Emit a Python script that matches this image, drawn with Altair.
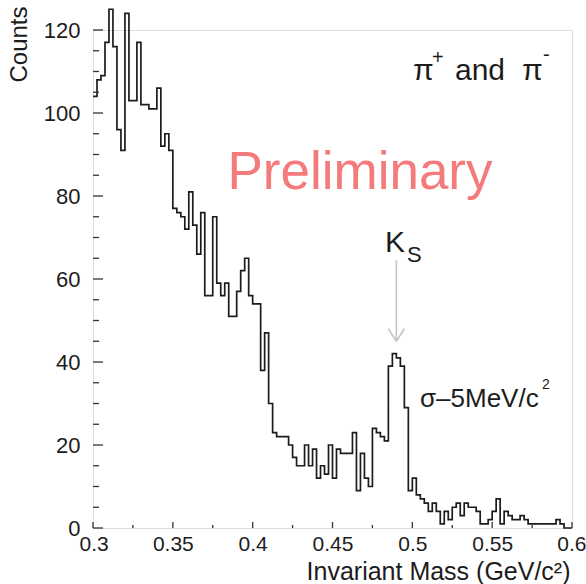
import altair as alt
import pandas as pd

# pi+ pi- invariant mass histogram: 2.5 MeV/c^2 bins from 0.30 to 0.60 GeV/c^2
BIN_WIDTH = 0.0025
counts = [
    104, 108, 109, 117, 125, 116, 96, 91, 124, 103,
    103, 117, 102, 102, 101, 101, 106, 92, 95, 91,
    77, 76, 75, 72, 81, 73, 66, 76, 56, 56,
    75, 59, 56, 59, 51, 51, 57, 62, 65, 56,
    54, 54, 38, 47, 30, 23, 22, 22, 22, 20,
    17, 15, 15, 20, 15, 19, 12, 15, 13, 20,
    12, 19, 18, 18, 18, 23, 9, 18, 12, 10,
    24, 23, 22, 21, 39, 42, 41, 39, 29, 9,
    12, 8, 7, 6, 4, 6, 4, 1, 4, 2,
    5, 6, 3, 6, 5, 5, 4, 1, 1, 2,
    4, 7, 1, 4, 3, 2, 2, 3, 2, 1,
    1, 1, 1, 1, 1, 1, 2, 1, 0, 0,
]

x_tick_values = [0.3, 0.35, 0.4, 0.45, 0.5, 0.55, 0.6]
x_minor_ticks = [0.325, 0.375, 0.425, 0.475, 0.525, 0.575]
y_tick_values = [0, 20, 40, 60, 80, 100, 120]
y_minor_ticks = [5, 10, 15, 25, 30, 35, 45, 50, 55, 65, 70, 75,
                 85, 90, 95, 105, 110, 115]

# K_S arrow (data coordinates): shaft and the two strokes of the head
ks_mass = 0.49
arrow_x = [ks_mass, ks_mass - 0.005, ks_mass + 0.005]
arrow_y = [64.5, 48.0, 48.0]
arrow_x2 = [ks_mass, ks_mass, ks_mass]
arrow_y2 = [45.0, 45.0, 45.0]

W, H = 479, 498
FONT = "Liberation Sans"
INK = "#1c1c1c"

edges = [round(0.3 + BIN_WIDTH * i, 4) for i in range(len(counts))]
hist_df = pd.DataFrame({"mass": edges + [0.6], "n": counts + [counts[-1]]})

x_scale = alt.Scale(domain=[0.3, 0.6], nice=False, zero=False)
y_scale = alt.Scale(domain=[0, 120], nice=False, zero=True)

# one axis definition shared by every layer so the merged axes agree
x_axis = alt.Axis(
    values=x_tick_values, format="~g", ticks=False, domain=False,
    grid=False, labelFontSize=21, labelPadding=5, labelColor=INK,
    labelFlush=True, labelFlushOffset=14, labelOverlap=False,
    labelFont=FONT,
    title="Invariant Mass (GeV/c²)", titleFontSize=25,
    titleFontWeight="normal", titleFont=FONT, titleColor=INK,
    titleX=477, titleY=51, titleAlign="right",
    titleBaseline="alphabetic",
)
y_axis = alt.Axis(
    values=y_tick_values, ticks=False, domain=False, grid=False,
    labelFontSize=22, labelPadding=13, labelColor=INK,
    labelOverlap=False, labelFont=FONT,
    title="Counts", titleFontSize=24, titleFontWeight="normal",
    titleFont=FONT, titleColor=INK, titleAngle=270,
    titleX=-67, titleY=-24, titleAlign="right",
    titleBaseline="alphabetic",
)

hist = alt.Chart(hist_df).mark_line(
    interpolate="step-after", color=INK, strokeWidth=1.7
).encode(
    x=alt.X("mass:Q", scale=x_scale, axis=x_axis),
    y=alt.Y("n:Q", scale=y_scale, axis=y_axis),
)


def x_ticks(values, length):
    return alt.Chart(pd.DataFrame({"t": values})).mark_rule(
        color="#333", strokeWidth=1.3
    ).encode(
        x=alt.X("t:Q", scale=x_scale, axis=x_axis),
        y=alt.value(H),
        y2=alt.value(H - length),
    )


def y_ticks(values, length):
    return alt.Chart(pd.DataFrame({"t": values})).mark_rule(
        color="#333", strokeWidth=1.3
    ).encode(
        y=alt.Y("t:Q", scale=y_scale, axis=y_axis),
        x=alt.value(0),
        x2=alt.value(length),
    )


arrow = alt.Chart(pd.DataFrame({
    "x": arrow_x, "y": arrow_y, "x2": arrow_x2, "y2": arrow_y2,
})).mark_rule(color="#c4c4c4", strokeWidth=1.6).encode(
    x=alt.X("x:Q", scale=x_scale, axis=x_axis),
    y=alt.Y("y:Q", scale=y_scale, axis=y_axis),
    x2="x2:Q",
    y2="y2:Q",
)


def label(text, px, py, size, color=INK, align="left"):
    return alt.Chart(pd.DataFrame({"s": [text]})).mark_text(
        font=FONT, fontSize=size, color=color, align=align,
        baseline="alphabetic",
    ).encode(text="s:N", x=alt.value(px), y=alt.value(py))


texts = [
    label("Preliminary", 267, 159, 53, color="#f47a7b", align="center"),
    label("π", 320, 50, 30),
    label("+", 339, 34, 20),
    label("and", 362, 50, 30),
    label("π", 429, 50, 30),
    label("-", 450, 31, 20),
    label("K", 292, 222, 30),
    label("S", 314, 232, 22),
    label("σ–5MeV/c", 327, 377, 26),
    label("2", 449, 359, 14),
]

chart = alt.layer(
    hist,
    x_ticks(x_tick_values, 6), x_ticks(x_minor_ticks, 3),
    y_ticks(y_tick_values, 10), y_ticks(y_minor_ticks, 6),
    arrow,
    *texts,
).properties(
    width=W, height=H,
    padding={"left": 93, "top": 30, "right": 14, "bottom": 56},
    autosize=alt.AutoSizeParams(type="none"),
).configure_view(
    stroke="#333", strokeWidth=1.6
).configure(
    background="white", font=FONT
)

chart.save("out.html", embed_options={"renderer": "svg", "actions": False})
